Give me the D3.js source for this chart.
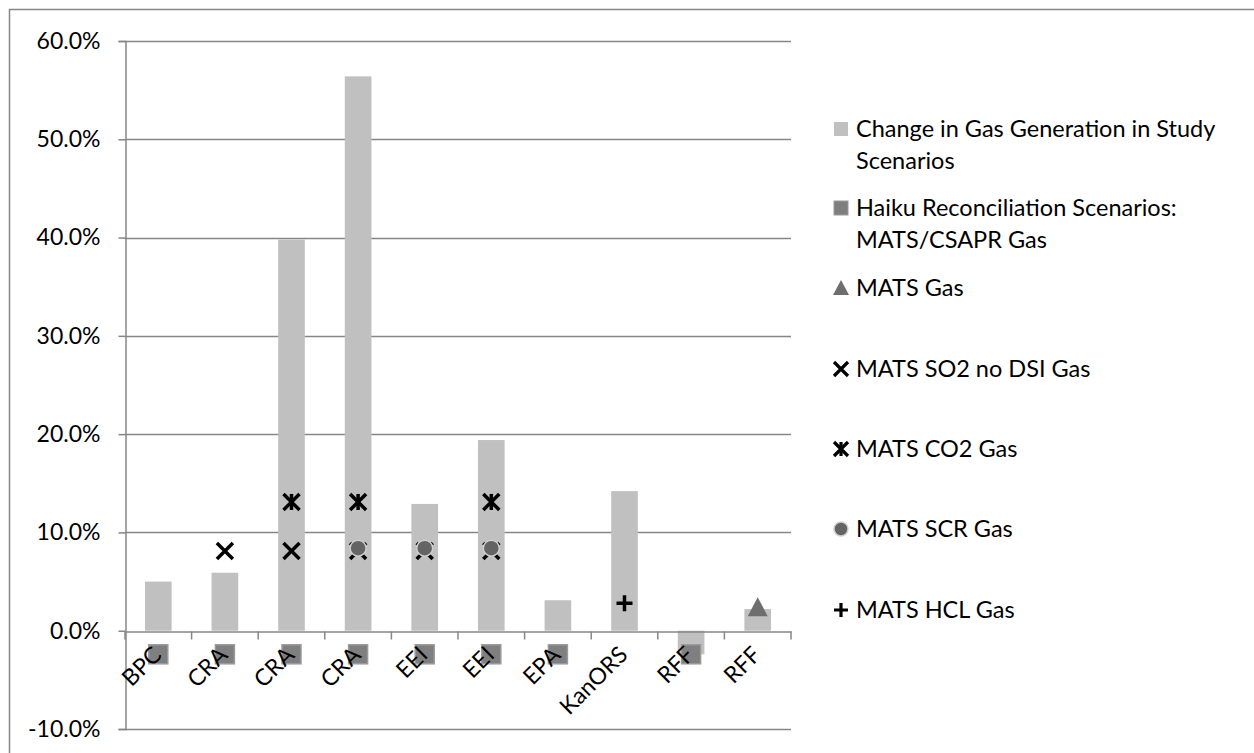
<!DOCTYPE html>
<html>
<head>
<meta charset="utf-8">
<script src="https://cdn.jsdelivr.net/npm/d3@7"></script>
<style>
  body { margin: 0; background: #fff; }
  svg { display: block; }
  text { font-family: Lato, "Noto Sans", sans-serif; fill: #000; }
</style>
</head>
<body>
<svg id="chart" width="1254" height="753"></svg>
<script>
// values (percent)
const categories = ["BPC", "CRA", "CRA", "CRA", "EEI", "EEI", "EPA", "KanORS", "RFF", "RFF"];
const gasChange = [5.0, 5.9, 39.8, 56.4, 12.9, 19.4, 3.1, 14.2, -2.4, 2.2];
const haiku = [-2.4, -2.4, -2.4, -2.4, -2.4, -2.4, -2.4, null, -2.4, null];
const matsGas = [null, null, null, null, null, null, null, null, null, 2.4];
const so2NoDsi = [null, 8.1, 8.1, 8.1, 8.1, 8.1, null, null, null, null];
const co2 = [null, null, 13.1, 13.1, null, 13.1, null, null, null, null];
const scr = [null, null, null, 8.4, 8.4, 8.4, null, null, null, null];
const hcl = [null, null, null, null, null, null, null, 2.8, null, null];
const yTicks = [-10, 0, 10, 20, 30, 40, 50, 60];
const legendLabels = [
  ["Change in Gas Generation in Study", "Scenarios"],
  ["Haiku Reconciliation Scenarios:", "MATS/CSAPR Gas"],
  ["MATS Gas"],
  ["MATS SO2 no DSI Gas"],
  ["MATS CO2 Gas"],
  ["MATS SCR Gas"],
  ["MATS HCL Gas"]
];

const svg = d3.select("#chart");

// outer frame (only left/top edges are in view)
svg.append("rect")
  .attr("x", 9.5).attr("y", 9.5)
  .attr("width", 1300).attr("height", 800)
  .attr("fill", "none").attr("stroke", "#868686").attr("stroke-width", 1.5);

const plotL = 125, plotR = 791, plotT = 41, plotB = 729;

const x = d3.scaleBand()
  .domain(d3.range(categories.length))
  .range([plotL, plotR])
  .paddingInner(0.6)
  .paddingOuter(0.3);
const cx = i => x(i) + x.bandwidth() / 2;

const y = d3.scaleLinear().domain([-10, 60]).range([plotB, plotT]);

// gridlines
svg.append("g")
  .selectAll("line")
  .data(yTicks.filter(t => t !== 0))
  .join("line")
  .attr("x1", plotL).attr("x2", plotR)
  .attr("y1", d => Math.round(y(d)) + 0.5).attr("y2", d => Math.round(y(d)) + 0.5)
  .attr("stroke", "#868686").attr("stroke-width", 1.5);

// y axis
const yAxis = svg.append("g")
  .attr("transform", `translate(${plotL + 0.5},0)`)
  .call(d3.axisLeft(y).tickValues(yTicks).tickSize(7).tickPadding(18)
    .tickFormat(d => d.toFixed(1) + "%"));
yAxis.select(".domain").attr("stroke", "#868686").attr("stroke-width", 1.5);
yAxis.selectAll(".tick line").attr("stroke", "#868686").attr("stroke-width", 1.5);
yAxis.selectAll(".tick text").attr("font-size", 23).attr("fill", "#000")
  .style("font-family", "Lato, sans-serif");

// bars
svg.append("g")
  .selectAll("rect")
  .data(gasChange)
  .join("rect")
  .attr("x", (d, i) => x(i))
  .attr("width", x.bandwidth())
  .attr("y", d => y(Math.max(0, d)))
  .attr("height", d => Math.abs(y(d) - y(0)))
  .attr("fill", "#c0c0c0");

// x axis at 0%
const xAxis = svg.append("g")
  .attr("transform", `translate(0,${Math.round(y(0)) + 0.5})`)
  .call(d3.axisBottom(x).tickSize(0).tickFormat(""));
xAxis.select(".domain").attr("stroke", "#868686").attr("stroke-width", 1.5);
// category boundary ticks
xAxis.append("g")
  .selectAll("line")
  .data(d3.range(categories.length + 1))
  .join("line")
  .attr("x1", i => plotL + i * x.step()).attr("x2", i => plotL + i * x.step())
  .attr("y1", 0).attr("y2", 8)
  .attr("stroke", "#868686").attr("stroke-width", 1.5);

// markers
const g = svg.append("g");
const pts = arr => arr.map((v, i) => ({ i, v })).filter(d => d.v !== null);

g.append("g").selectAll("rect").data(pts(haiku)).join("rect")
  .attr("x", d => cx(d.i) - 9.5).attr("y", d => y(d.v) - 9.5)
  .attr("width", 19).attr("height", 19)
  .attr("fill", "#7f7f7f").attr("stroke", "#9a9a9a").attr("stroke-width", 1.5);

g.append("g").selectAll("path").data(pts(matsGas)).join("path")
  .attr("d", d => {
    const px = cx(d.i), py = y(d.v);
    return `M${px},${py - 10}L${px + 10},${py + 9}L${px - 10},${py + 9}Z`;
  })
  .attr("fill", "#6e6e6e");

function xMark(sel, arr) {
  sel.append("g").selectAll("path").data(pts(arr)).join("path")
    .attr("d", d => {
      const px = cx(d.i), py = y(d.v), s = 8;
      return `M${px - s},${py - s}L${px + s},${py + s}M${px + s},${py - s}L${px - s},${py + s}`;
    })
    .attr("stroke", "#000").attr("stroke-width", 3.5).attr("fill", "none");
}
xMark(g, so2NoDsi);
xMark(g, co2);
g.append("g").selectAll("path").data(pts(co2)).join("path")
  .attr("d", d => `M${cx(d.i)},${y(d.v) - 8}V${y(d.v) + 8}`)
  .attr("stroke", "#000").attr("stroke-width", 3.5);

g.append("g").selectAll("circle").data(pts(scr)).join("circle")
  .attr("cx", d => cx(d.i)).attr("cy", d => y(d.v)).attr("r", 8)
  .attr("fill", "#646464").attr("stroke", "#cfcfcf").attr("stroke-width", 1.5);

g.append("g").selectAll("path").data(pts(hcl)).join("path")
  .attr("d", d => {
    const px = cx(d.i), py = y(d.v);
    return `M${px - 8},${py}H${px + 8}M${px},${py - 8}V${py + 8}`;
  })
  .attr("stroke", "#000").attr("stroke-width", 3.5);

// category labels, rotated -45; the upper-right end of each label sits just
// right of the category centre, hanging from a fixed line below the axis
const labelTop = 640;
svg.append("g")
  .selectAll("text")
  .data(categories)
  .join("text")
  .attr("text-anchor", "end")
  .attr("font-size", 23)
  .attr("transform", "rotate(-45)")
  .text(d => d)
  .each(function (d, i) {
    const bb = this.getBoundingClientRect();
    const right = cx(i) + 8;
    d3.select(this).attr("transform",
      `translate(${right - bb.right},${labelTop - bb.top}) rotate(-45)`);
  });

// legend
const legendY = [129, 208, 288, 369, 449, 529, 610];
const lg = svg.append("g");
const mx = 841, tx = 856;
legendLabels.forEach((lines, k) => {
  const yy = legendY[k];
  lines.forEach((t, j) => {
    lg.append("text").attr("x", tx).attr("y", yy + j * 32).attr("dy", "0.35em")
      .attr("font-size", 23.5).text(t);
  });
  const m = lg.append("g").attr("transform", `translate(${mx},${yy})`);
  if (k === 0) m.append("rect").attr("x", -7).attr("y", -7).attr("width", 14).attr("height", 14).attr("fill", "#c0c0c0");
  if (k === 1) m.append("rect").attr("x", -7).attr("y", -7).attr("width", 14).attr("height", 14).attr("fill", "#7f7f7f").attr("stroke", "#9a9a9a");
  if (k === 2) m.append("path").attr("d", "M0,-8L8,7L-8,7Z").attr("fill", "#6e6e6e");
  if (k === 3 || k === 4) m.append("path").attr("d", "M-7,-7L7,7M7,-7L-7,7").attr("stroke", "#000").attr("stroke-width", 3.2);
  if (k === 4) m.append("path").attr("d", "M0,-7V7").attr("stroke", "#000").attr("stroke-width", 3.2);
  if (k === 5) m.append("circle").attr("r", 7).attr("fill", "#646464").attr("stroke", "#cfcfcf").attr("stroke-width", 1.5);
  if (k === 6) m.append("path").attr("d", "M-7,0H7M0,-7V7").attr("stroke", "#000").attr("stroke-width", 3.2);
});
</script>
</body>
</html>
